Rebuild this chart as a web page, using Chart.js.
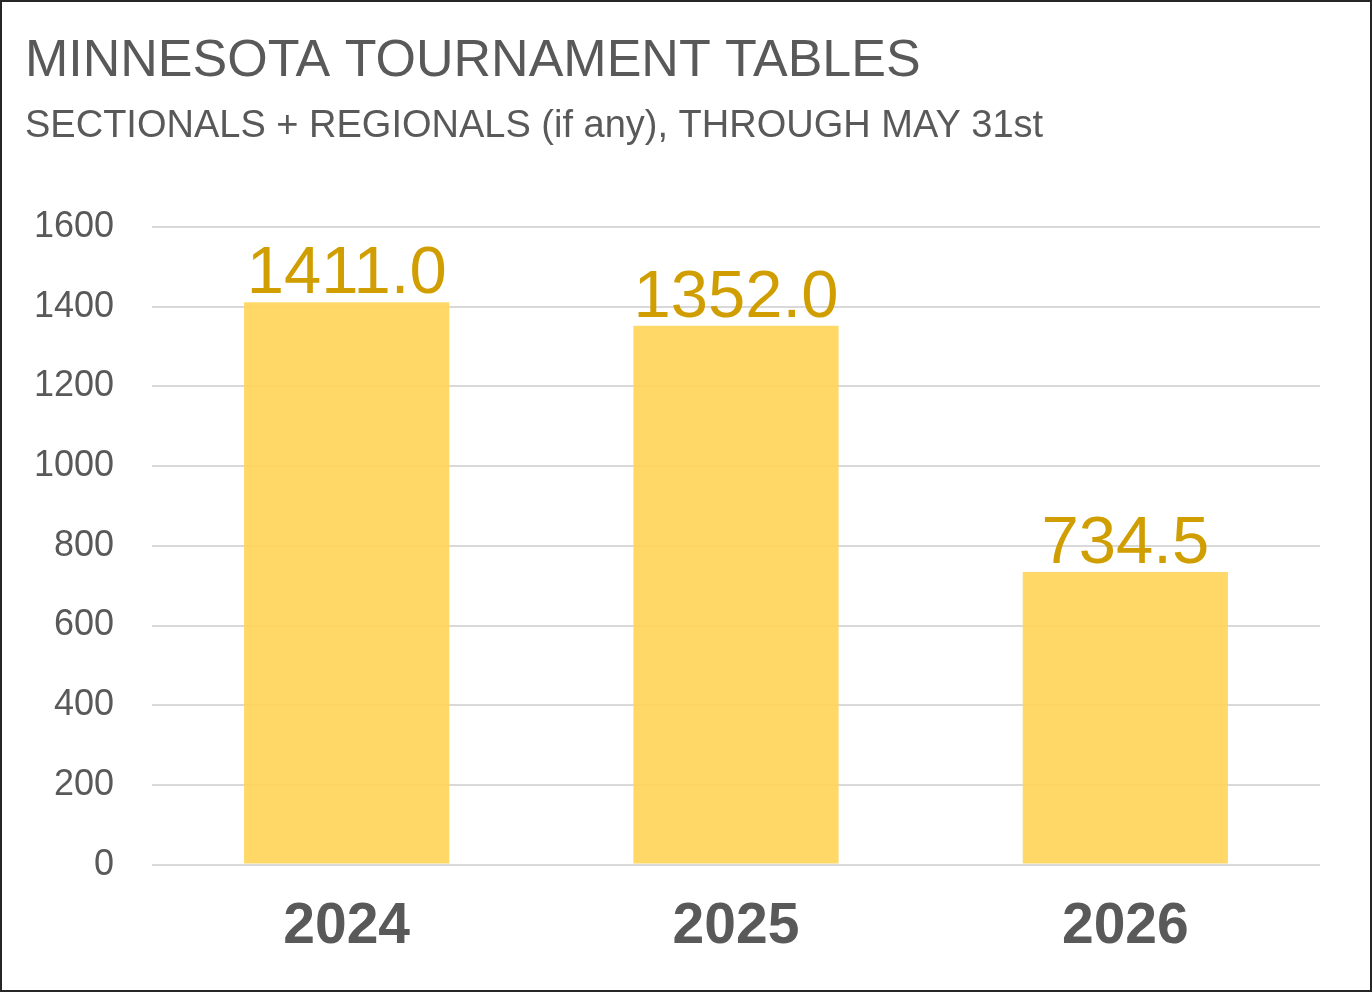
<!DOCTYPE html>
<html>
<head>
<meta charset="utf-8">
<script src="https://cdn.jsdelivr.net/npm/chart.js@4.4.1/dist/chart.umd.min.js"></script>
<style>
  html, body { margin: 0; padding: 0; background: #fff; }
  #wrap {
    width: 1372px; height: 992px; box-sizing: border-box;
    border: 2px solid #262626; background: #fff;
  }
</style>
</head>
<body>
<div id="wrap"><canvas id="tablesChart" width="1368" height="988"></canvas></div>
<script>
// chart data
var years = ["2024", "2025", "2026"];
var tables = [1411.0, 1352.0, 734.5];
var yTicks = [0, 200, 400, 600, 800, 1000, 1200, 1400, 1600];

var textGray = "#595959";
var font = "'Liberation Sans', Arial, sans-serif";

// draws the value above each bar
var valueLabels = {
  id: "valueLabels",
  afterDatasetsDraw: function(chart) {
    var ctx = chart.ctx;
    var meta = chart.getDatasetMeta(0);
    ctx.save();
    ctx.font = "67px " + font;
    ctx.fillStyle = "#D09E00";
    ctx.textAlign = "center";
    ctx.textBaseline = "alphabetic";
    meta.data.forEach(function(bar, i) {
      ctx.fillText(tables[i].toFixed(1), bar.x, bar.y - 9);
    });
    ctx.restore();
  }
};

var ctx = document.getElementById("tablesChart");
var chart = new Chart(ctx, {
  type: "bar",
  data: {
    labels: years,
    datasets: [{
      label: "Tables",
      data: tables,
      backgroundColor: "rgba(255,213,90,0.92)",
      borderWidth: 0,
      categoryPercentage: 1.0,
      barPercentage: 0.527
    }]
  },
  options: {
    responsive: false,
    animation: false,
    layout: { padding: { left: 23, right: 50, top: 18, bottom: 9 } },
    plugins: {
      legend: { display: false },
      tooltip: { enabled: false },
      title: {
        display: true,
        text: "MINNESOTA TOURNAMENT TABLES",
        align: "start",
        color: textGray,
        font: { family: font, size: 52, weight: "normal" },
        padding: { top: 10, bottom: 0 }
      },
      subtitle: {
        display: true,
        text: "SECTIONALS + REGIONALS (if any), THROUGH MAY 31st",
        align: "start",
        color: textGray,
        font: { family: font, size: 38, weight: "normal" },
        padding: { top: 11, bottom: 78 }
      }
    },
    scales: {
      x: {
        grid: { display: false },
        border: { display: false },
        ticks: {
          color: textGray,
          font: { family: font, size: 57, weight: "bold" },
          padding: 20
        }
      },
      y: {
        min: 0,
        max: 1600,
        afterBuildTicks: function(scale) {
          scale.ticks = yTicks.map(function(v) { return { value: v }; });
        },
        afterFit: function(scale) { scale.width = 127; },
        grid: { color: "#d9d9d9", lineWidth: 2, drawTicks: false },
        border: { display: false },
        ticks: {
          color: textGray,
          font: { family: font, size: 36 },
          padding: 38,
          callback: function(value) { return String(value); }
        }
      }
    }
  },
  plugins: [valueLabels]
});
</script>
</body>
</html>
